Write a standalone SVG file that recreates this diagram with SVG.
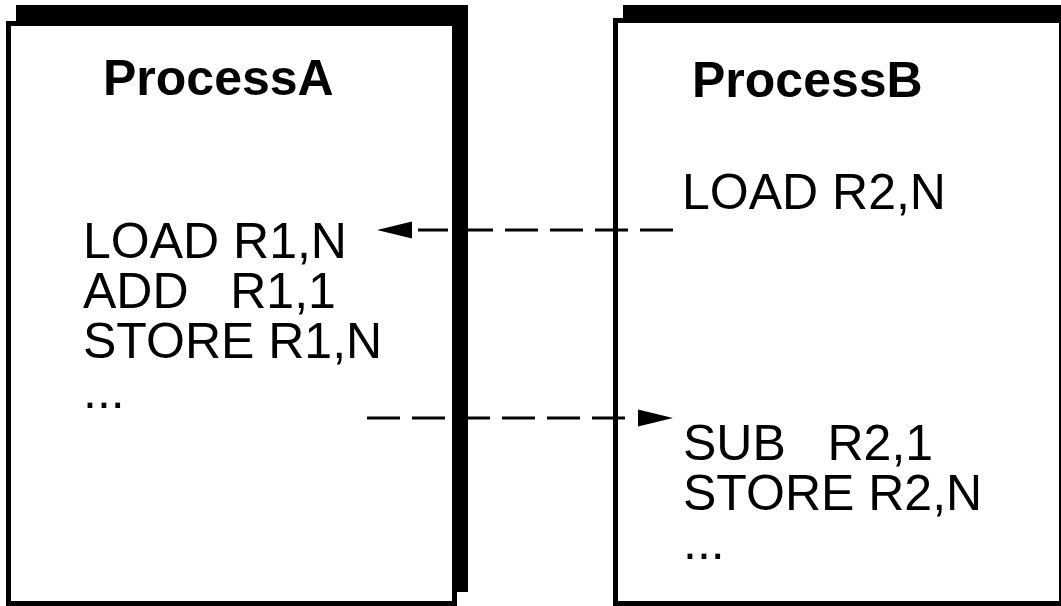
<svg xmlns="http://www.w3.org/2000/svg" width="1061" height="606" viewBox="0 0 1061 606">
  <style>
    .shadow { fill: #000; }
    .page { fill: #fff; stroke: #000; stroke-width: 5; }
    .title { font-family: "Liberation Sans", Arial, sans-serif; font-weight: bold; font-size: 50px; fill: #000; }
    .code { font-family: "Liberation Sans", Arial, sans-serif; font-size: 50px; fill: #000; white-space: pre; }
    .dash { fill: none; stroke: #000; stroke-width: 3; stroke-dasharray: 33 12; }
    .head { fill: #000; }
  </style>
  <rect width="1061" height="606" fill="#fff"/>
  <g id="processA">
    <rect class="shadow" x="16" y="5" width="452" height="587"/>
    <rect class="page" x="8.5" y="23.5" width="446" height="580"/>
    <text class="title" x="103" y="95">ProcessA</text>
    <text class="code" x="83" y="258" xml:space="preserve">LOAD R1,N</text>
    <text class="code" x="83" y="308" xml:space="preserve">ADD   R1,1</text>
    <text class="code" x="83" y="358" xml:space="preserve">STORE R1,N</text>
    <text class="code" x="83" y="408" xml:space="preserve">...</text>
  </g>
  <g id="processB">
    <rect class="shadow" x="623" y="5" width="460" height="587"/>
    <rect class="page" x="615.5" y="20.5" width="446" height="583"/>
    <text class="title" x="692" y="97">ProcessB</text>
    <text class="code" x="682" y="209" xml:space="preserve">LOAD R2,N</text>
    <text class="code" x="683" y="460" xml:space="preserve">SUB   R2,1</text>
    <text class="code" x="683" y="510" xml:space="preserve">STORE R2,N</text>
    <text class="code" x="683" y="559" xml:space="preserve">...</text>
  </g>
  <g id="connectors">
    <path class="dash" d="M673,230 L418,230"/>
    <polygon class="head" points="377,230 412,221.5 412,238.5"/>
    <path class="dash" d="M367,418 L637,418"/>
    <polygon class="head" points="673,418 638,409.5 638,426.5"/>
  </g>
</svg>
